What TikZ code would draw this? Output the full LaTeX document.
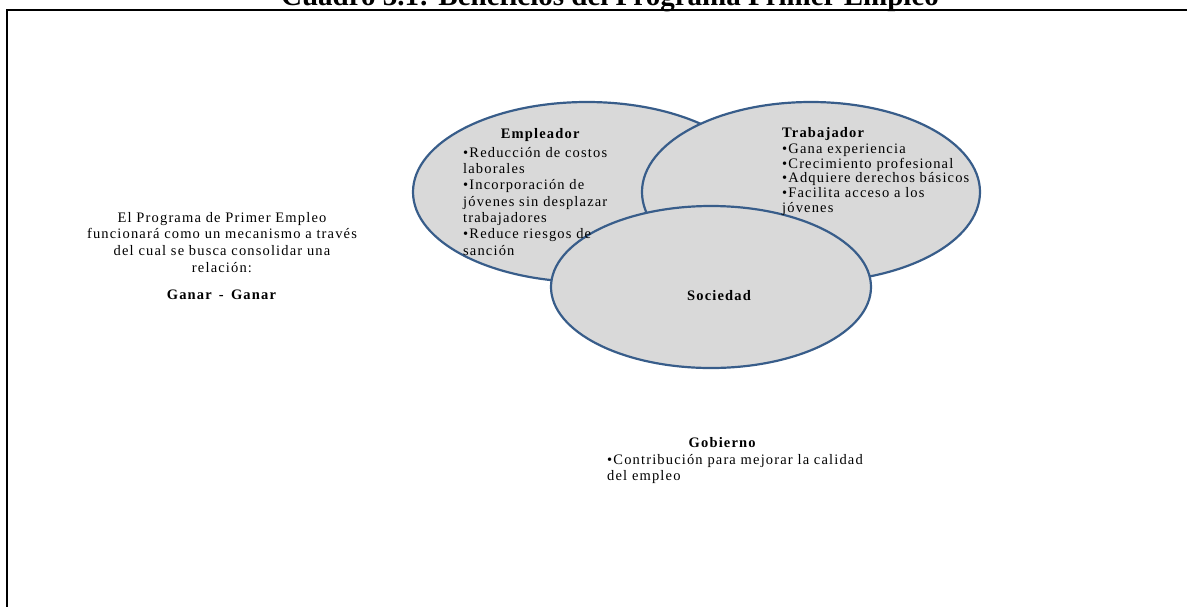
\documentclass[tikz,border=0pt]{standalone}
\usepackage{fontspec}
\setmainfont{Liberation Serif}
\newfontfamily\diagfont[LetterSpace=8]{Liberation Serif}
\usetikzlibrary{shapes, positioning}

\definecolor{borde}{HTML}{385D8A}
\definecolor{relleno}{HTML}{D9D9D9}

\begin{document}
\begin{tikzpicture}[x=1pt, y=-1pt,
  conjunto/.style={draw=borde, fill=relleno, ellipse, line width=2.2pt, inner sep=0pt},
  texto/.style={inner sep=0pt, font=\diagfont\fontsize{14.5}{16.3}\selectfont}]

\useasboundingbox (0,0) rectangle (1187,606);

\draw[line width=2.2pt] (7,620) |- (1200,10);
\node[anchor=base, inner sep=0pt, font=\fontsize{29}{34}\selectfont\bfseries] (titulo) at (610,5) {Cuadro 3.1: Beneficios del Programa Primer Empleo};

\node[conjunto, minimum width=348pt, minimum height=180pt] (empleador) at (587,192) {};
\node[conjunto, minimum width=338pt, minimum height=180pt] (trabajador) at (811,192) {};
\node[conjunto, minimum width=320pt, minimum height=162pt] (sociedad) at (711,287) {};

\node[texto, align=left, anchor=base west] (empleadorT) at (463,255)
  {\makebox[154pt]{\bfseries Empleador}\\[2pt] •Reducción de costos\\ laborales\\ •Incorporación de\\ jóvenes sin desplazar\\ trabajadores\\ •Reduce riesgos de\\ sanción};
\node[texto, align=left, anchor=base west, font=\diagfont\fontsize{14.5}{14.6}\selectfont] (trabajadorT) at (782,212)
  {\textbf{Trabajador}\\[2pt] •Gana experiencia\\ •Crecimiento profesional\\ •Adquiere derechos básicos\\ •Facilita acceso a los\\ jóvenes};
\node[texto, anchor=base, font=\diagfont\bfseries\fontsize{14.5}{16}\selectfont] (sociedadT) at (719,300) {Sociedad};

\node[texto, align=center, anchor=base, font=\diagfont\fontsize{14.5}{16.7}\selectfont] (programa) at (222,299)
  {El Programa de Primer Empleo\\ funcionará como un mecanismo a través\\ del cual se busca consolidar una\\ relación:\\[10pt] \textbf{Ganar\, - \,Ganar}};

\node[texto, align=left, anchor=base west, font=\diagfont\fontsize{14.5}{16}\selectfont] (gobierno) at (607,480)
  {\makebox[230pt]{\bfseries Gobierno}\\[1pt] •Contribución para mejorar la calidad\\ del empleo};

\end{tikzpicture}
\end{document}
